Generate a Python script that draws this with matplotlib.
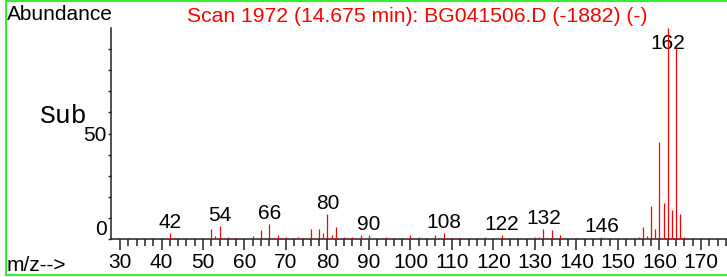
import matplotlib
matplotlib.use("Agg")
import matplotlib.pyplot as plt
from matplotlib.lines import Line2D

R = "#ff0000"
GR = "#33ee33"

mz = [38, 42, 43, 52, 53, 54, 56, 58, 62, 64, 66, 67, 68, 70, 73, 74, 76, 78, 79, 80,
      81, 82, 84, 86, 88, 90, 94, 100, 102, 104, 106, 108, 110, 112, 114, 118, 122,
      126, 130, 131, 132, 133, 134, 136, 146, 155, 156, 157, 158, 159, 160, 161, 162,
      163, 164, 165, 166]
abund = [0.4, 3.0, 0.5, 4.7, 1.2, 6.0, 1.1, 0.6, 1.2, 4.3, 7.3, 0.6, 1.8, 1.1, 1.1, 0.5,
         4.8, 4.8, 3.0, 11.9, 1.9, 5.9, 1.1, 1.1, 1.9, 1.9, 1.1, 1.8, 1.1, 0.5, 1.8, 3.0,
         0.4, 0.4, 0.4, 1.0, 1.8, 0.4, 1.0, 1.1, 4.7, 0.5, 4.1, 1.8, 1.1, 0.8, 5.9, 1.6,
         15.6, 4.7, 45.9, 17.0, 100.0, 13.7, 90.4, 12.0, 1.0]
labeled = [42, 54, 66, 80, 90, 108, 122, 132, 146, 162]

xticks = list(range(30, 180, 10))
minor_x = [m for m in range(30, 177, 2) if m % 10]

plt.rcParams["font.family"] = ["Liberation Sans", "DejaVu Sans"]
plt.rcParams["font.monospace"] = ["Liberation Mono", "Courier New", "DejaVu Sans Mono"]

W, H = 727, 277
fig = plt.figure(figsize=(W / 100, H / 100), dpi=100)
ax = fig.add_axes([111 / W, 38 / H, 616 / W, 211 / H])

ax.vlines(mz, 0, abund, color=R, lw=0.9, zorder=4)

for m in labeled:
    h = abund[mz.index(m)]
    ax.annotate(str(m), xy=(m, min(h, 87.7)), xytext=(0, 3.6), textcoords="offset points",
                ha="center", va="baseline", fontsize=15, zorder=3)

ax.set_xlim(27.83, 176.27)
ax.set_ylim(0, 100)

ax.spines["top"].set_visible(False)
ax.spines["right"].set_visible(False)
for s in ("left", "bottom"):
    ax.spines[s].set_linewidth(1.1)
    ax.spines[s].set_color("#222222")

ax.set_xticks(xticks)
ax.set_xticks(minor_x, minor=True)
ax.tick_params(axis="x", which="major", direction="out", length=8, width=1.1, pad=2,
               labelsize=15, color="#222222")
ax.tick_params(axis="x", which="minor", direction="out", length=5, width=1.1, color="#222222")

ax.set_yticks([0, 50])
ax.set_yticks([10, 20, 30, 40, 60, 70, 80, 90], minor=True)
ax.tick_params(axis="y", which="both", direction="out", length=2, width=1, pad=1,
               labelsize=15, color="#222222")
ax.get_yticklabels()[0].set_va("bottom")

fig.text(7 / W, 1 - 20 / H, "Abundance", fontsize=15, va="baseline", ha="left")
fig.text(417 / W, 1 - 22 / H, "Scan 1972 (14.675 min): BG041506.D (-1882) (-)",
         fontsize=15.2, color=R, va="baseline", ha="center")
fig.text(7 / W, 1 - 271 / H, "m/z-->", fontsize=15, va="baseline", ha="left")
fig.text(40 / W, 1 - 123 / H, "Sub", fontsize=19, va="baseline", ha="left",
         fontfamily="monospace")

# green frame (right side runs off the image)
fig.add_artist(Line2D([6 / W, 6 / W], [2 / H, 1 - 1 / H], color=GR, lw=1.5))
fig.add_artist(Line2D([6 / W, 1.01], [1 - 1 / H, 1 - 1 / H], color=GR, lw=1.5))
fig.add_artist(Line2D([6 / W, 1.01], [2 / H, 2 / H], color=GR, lw=1.5))

fig.savefig("out.png", dpi=100)
